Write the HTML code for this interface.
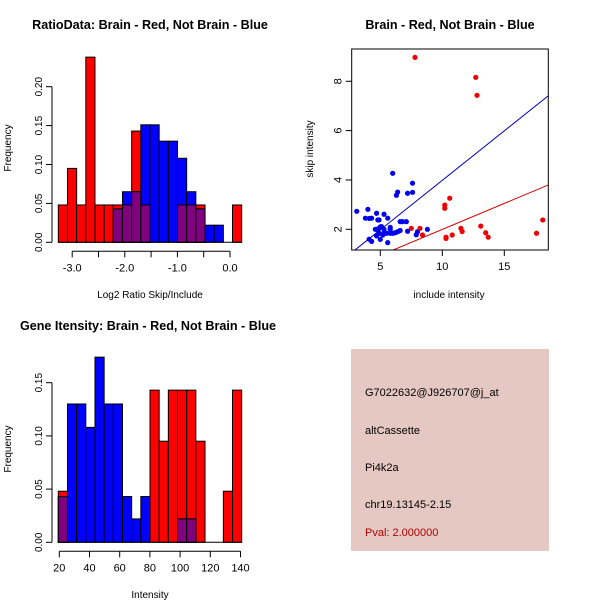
<!DOCTYPE html>
<html><head><meta charset="utf-8"><style>
body{margin:0;background:#fff}
svg{display:block;font-family:"Liberation Sans",sans-serif}
</style></head><body>
<svg id="c" width="600" height="600" xmlns="http://www.w3.org/2000/svg">
<rect width="600" height="600" fill="#fff"/>
<text x="150" y="29" text-anchor="middle" font-size="12.6" font-weight="bold">RatioData: Brain - Red, Not Brain - Blue</text>
<text x="450" y="29" text-anchor="middle" font-size="12.6" font-weight="bold">Brain - Red, Not Brain - Blue</text>
<text x="148" y="330" text-anchor="middle" font-size="12.6" font-weight="bold">Gene Itensity: Brain - Red, Not Brain - Blue</text>
<text x="150" y="298" text-anchor="middle" font-size="10">Log2 Ratio Skip/Include</text>
<text transform="translate(11,148) rotate(-90)" text-anchor="middle" font-size="10">Frequency</text>
<text x="150" y="598" text-anchor="middle" font-size="10">Intensity</text>
<text transform="translate(11,449) rotate(-90)" text-anchor="middle" font-size="10">Frequency</text>
<text x="449" y="298" text-anchor="middle" font-size="10">include intensity</text>
<text transform="translate(313,149) rotate(-90)" text-anchor="middle" font-size="10">skip intensity</text>
<g>
<rect x="351" y="349" width="198" height="202" fill="#e6c8c2"/>
<text x="365" y="396" font-size="11">G7022632@J926707@j_at</text>
<text x="365" y="434" font-size="11">altCassette</text>
<text x="365" y="471" font-size="11">Pi4k2a</text>
<text x="365" y="508" font-size="11">chr19.13145-2.15</text>
<text x="365" y="536" font-size="11" fill="#b00000">Pval: 2.000000</text>
</g>
</svg>
<script>
const ratioRed=[.048,.095,.048,.238,.048,.048,.048,.048,.143,.048,0,0,0,.048,.048,.048,0,0,0,.048];
const ratioBlue=[0,0,0,0,0,0,.043,.065,.065,.151,.151,.130,.130,.108,.065,.043,.022,.022,0,0];
const ratioTicks=[-3.0,-2.5,-2.0,-1.5,-1.0,-0.5,0.0];
const ratioTickLabels=["-3.0","","-2.0","","-1.0","","0.0"];
const freqTicks1=[0,0.05,0.10,0.15,0.20];
const intRed=[.048,0,0,0,0,0,0,0,0,0,.143,.095,.143,.143,.143,.095,0,0,.048,.143];
const intBlue=[.043,.130,.130,.108,.174,.130,.130,.043,.022,.043,0,0,0,.022,.022,0,0,0,0,0];
const intTicks=[20,40,60,80,100,120,140];
const freqTicks2=[0,0.05,0.10,0.15];
const blueX=[3.1,4.0,3.8,4.1,4.3,4.7,4.9,5.3,5.6,4.8,4.6,4.9,5.1,5.3,4.7,4.9,5.2,5.5,5.8,6.0,6.2,6.4,6.6,5.8,6.6,7.1,6.0,6.3,6.4,7.2,7.6,7.6,7.2,8.0,7.9,8.8,5.2,5.8,4.7,4.1,4.3,5.0,5.6,6.8,5.0];
const blueY=[2.73,2.81,2.45,2.44,2.45,2.65,2.38,2.61,2.45,2.38,2.0,2.04,2.11,2.0,1.73,1.84,1.77,1.84,1.84,1.84,1.86,1.9,1.95,2.08,2.31,2.31,4.27,3.38,3.51,3.46,3.87,3.5,1.92,1.9,1.78,2.0,1.81,2.0,2.0,1.6,1.51,1.59,1.46,2.31,2.1];
const redX=[7.8,12.7,12.8,7.5,8.2,8.4,10.2,10.2,10.6,10.3,10.3,10.8,11.5,11.6,13.1,13.5,13.7,17.6,18.1];
const redY=[8.97,8.16,7.43,2.04,2.04,1.77,2.98,2.85,3.26,1.68,1.63,1.77,2.04,1.91,2.13,1.86,1.68,1.84,2.38];
const blueLine=[-0.025,0.401];
const redLine=[-0.111,0.2107];
const scXTicks=[5,10,15], scYTicks=[2,4,6,8];

const svg=document.getElementById('c');
const NS='http://www.w3.org/2000/svg';
function mk(t,a,p){const e=document.createElementNS(NS,t);for(const k in a)e.setAttribute(k,a[k]);(p||svg).appendChild(e);return e;}

function hist(red,blue,x0,bw,y0,ppu,ticks,tickLabels,xs,ft,axX,prefix){
  const g=mk('g',{});
  
  
  const y=v=>y0-v*ppu;
  red.forEach((v,i)=>{if(v>0){const r=mk('rect',{x:x0+i*bw,y:y(v),width:bw,height:v*ppu,fill:'#ff0000',stroke:'#000','stroke-width':1},g);
    
    }});
  blue.forEach((v,i)=>{if(v>0){const r=mk('rect',{x:x0+i*bw,y:y(v),width:bw,height:v*ppu,fill:'#0000ff',stroke:'#000','stroke-width':1},g);
    
    }
    const m=Math.min(v,red[i]);
    if(m>0){const r=mk('rect',{x:x0+i*bw,y:y(m),width:bw,height:m*ppu,fill:'#800080',stroke:'#000','stroke-width':1},g);
    
    }});
  mk('line',{x1:x0,x2:x0+red.length*bw,y1:y0,y2:y0,stroke:'#000'},g);
  mk('line',{x1:axX,x2:axX,y1:y(ft[0]),y2:y(ft[ft.length-1]),stroke:'#000'},g);
  ft.forEach(v=>{mk('line',{x1:axX,x2:axX-6,y1:y(v),y2:y(v),stroke:'#000'},g);
    const t=mk('text',{transform:`translate(${axX-10},${y(v)}) rotate(-90)`,'text-anchor':'middle','font-size':10},g);t.textContent=v.toFixed(2);});
  const ty=y0+9;
  mk('line',{x1:xs(ticks[0]),x2:xs(ticks[ticks.length-1]),y1:ty,y2:ty,stroke:'#000'},g);
  ticks.forEach((v,i)=>{mk('line',{x1:xs(v),x2:xs(v),y1:ty,y2:ty+6,stroke:'#000'},g);
    if(tickLabels[i]){const t=mk('text',{x:xs(v),y:ty+20,'text-anchor':'middle','font-size':11},g);t.textContent=tickLabels[i];}});
}
hist(ratioRed,ratioBlue,58.3,9.17,242.3,778,ratioTicks,ratioTickLabels,v=>230+v*52.6,freqTicks1,52,'ratio');
hist(intRed,intBlue,58.3,9.17,542.3,1064,intTicks,intTicks.map(String),v=>59.3+(v-20)*1.51,freqTicks2,52,'intensity');

const sx=v=>380.3+(v-5)*12.4, sy=v=>229.3-(v-2)*24.67;
const L=351.7,R=548.3,T=49,B=250;
const sg=mk('g',{});


const cp=mk('clipPath',{id:'cp'},sg);
mk('rect',{x:L,y:T,width:R-L,height:B-T},cp);
const pg=mk('g',{'clip-path':'url(#cp)'},sg);
blueX.forEach((v,i)=>{const c=mk('circle',{cx:sx(v),cy:sy(blueY[i]),r:2.6,fill:'#0000ee'},pg);
  
  });
redX.forEach((v,i)=>{const c=mk('circle',{cx:sx(v),cy:sy(redY[i]),r:2.6,fill:'#ee0000'},pg);
  
  });
[[blueLine,'#0000aa','not-brain-fit-line'],[redLine,'#cc0000','brain-fit-line']].forEach(([ln,col,nm])=>{
  const xa=0,xb=20;
  const l=mk('line',{x1:sx(xa),y1:sy(ln[0]+ln[1]*xa),x2:sx(xb),y2:sy(ln[0]+ln[1]*xb),stroke:col,'stroke-width':1},pg);
  
  });
mk('rect',{x:L,y:T,width:R-L,height:B-T,fill:'none',stroke:'#000'},sg);
scXTicks.forEach(v=>{mk('line',{x1:sx(v),x2:sx(v),y1:B,y2:B+6,stroke:'#000'},sg);
  const t=mk('text',{x:sx(v),y:B+20,'text-anchor':'middle','font-size':11},sg);t.textContent=v;});
scYTicks.forEach(v=>{mk('line',{x1:L,x2:L-6,y1:sy(v),y2:sy(v),stroke:'#000'},sg);
  const t=mk('text',{transform:`translate(${L-10},${sy(v)}) rotate(-90)`,'text-anchor':'middle','font-size':11},sg);t.textContent=v;});
</script>
</body></html>
